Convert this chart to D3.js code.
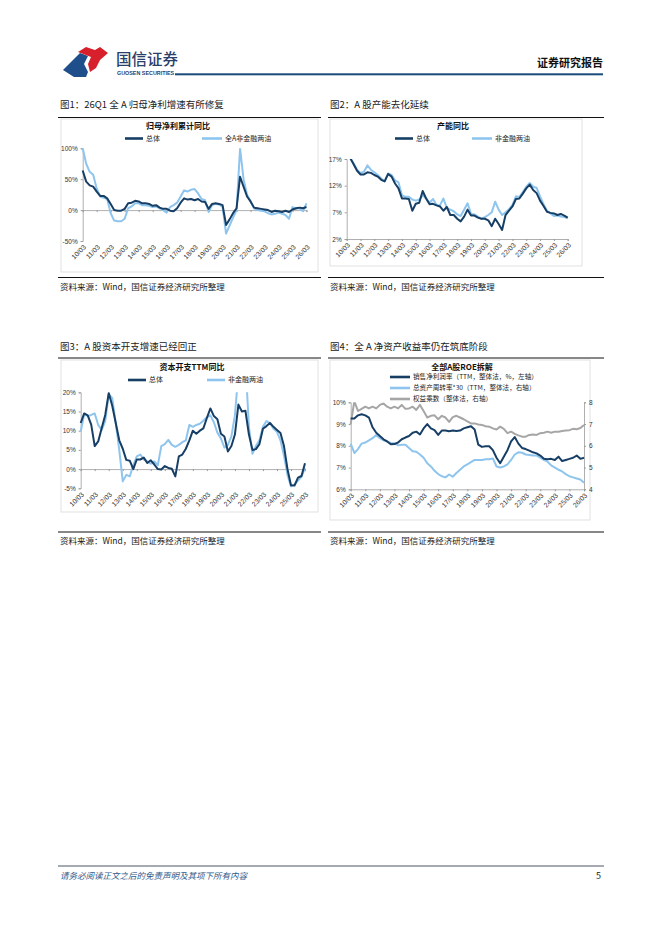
<!DOCTYPE html>
<html>
<head>
<meta charset="utf-8">
<script src="https://cdn.jsdelivr.net/npm/d3@7"></script>
<style>
  body { margin: 0; background: #fff; }
  svg text { font-family: "Noto Sans CJK SC", "Liberation Sans", sans-serif; }
</style>
</head>
<body>
<svg id="page" width="662" height="936"></svg>
<script>
// 年度刻度標籤（每 4 個季度一個）
const tickLabels = ["10/03","11/03","12/03","13/03","14/03","15/03","16/03","17/03","18/03","19/03","20/03","21/03","22/03","23/03","24/03","25/03","26/03"];

// 圖1 歸母淨利累計同比 (%)
const profitTotal = [64,46,40,38,30,23,23,19,10,0,-1,-1,2,11,12,15,14,11,11,10,7,8,4,2,2,-1,-2,3,12,19,17,18,16,18,14,13,2,10,11,10,8,-24,-15,-5,3,54,38,22,14,4,3,2,1,0,-3,-1,-2,-3,-1,-3,1,3,4,3,5];
const profitExFin = [100,75,62,57,35,22,20,18,-5,-17,-18,-18,-14,3,6,11,11,8,8,7,5,6,3,0,-4,5,8,12,22,32,30,33,34,27,18,16,-3,8,10,9,5,-38,-25,-12,0,100,50,25,14,3,0,-1,-2,-5,-7,-6,-4,-6,-8,-14,5,2,3,-2,11];

// 圖2 產能同比 (%)
const capTotal = [18,17.2,16,14.8,14.1,14.1,14.5,14.4,14,13.7,13.1,12.8,14.2,13.7,12.4,11.5,9.6,9.6,9.5,7.3,8.6,8.8,11,9.6,8.5,8.6,8.3,8.1,7.3,8,6.5,6.5,5.8,5.3,6.2,7.5,6.4,6.4,6,5.8,5.8,5.5,4.4,5.8,4.8,3.7,6.5,7.3,8.1,9.5,9.6,10.5,11.5,12.2,11.2,10.6,9.2,8.2,7.1,6.9,6.8,6.5,6.7,6.4,6];
const capExFin = [18,17.2,16.2,15,14.4,14.6,15.8,15,14.5,14,13.3,12.9,14.3,14,13,12.6,10.2,9.9,9.9,9.4,9.2,9.4,10.2,9.6,8.8,9.5,8.4,8.3,9.6,7.8,7.5,7.2,6.6,6.3,7.5,8.7,6.7,6.6,6.2,5.8,6.1,6.5,7,9,7.5,6.5,7,7.6,8.4,10,9.9,10.8,11.8,12.5,11.8,11.6,10,8.5,7.3,6.8,6.3,6.4,6.2,6.1,5.9];

// 圖3 資本開支TTM同比 (%)
const capexTotal = [12,14.5,14,11.6,6,7.2,10.7,14.1,19.8,16.5,12,7.5,5.3,2.4,2.2,0,2.5,2.5,3,1.6,2.3,1.2,0,-0.1,0.8,0.3,0.1,-1.9,3.3,3.8,5.3,7.5,10,9.2,10,10.6,13.3,15.8,13.8,13,9.2,8.5,4.6,6,9,16.8,15,15.2,9,5,5.2,6.5,10.5,11.2,12,11,10.2,9.4,6,0,-4.2,-4.3,-2.2,-1.8,1.5];
const capexExFin = [9.8,14.3,13.8,14.1,14.5,11.5,10.2,12.5,19.5,18.5,12,5,-3.2,-1.5,-1.9,1,3.3,3.8,2.5,2,1.4,2,1,6,6.5,7.6,6.3,5.8,6.3,7,7.5,11.5,11,11.5,11.8,12.6,13.5,14,12.2,9.5,8,5.6,6.3,8.5,14,25,30,28,11,4,6,7.5,11,12.5,12,10.5,9.7,7.5,3.5,-1.5,-4.5,-4,-3,-2,0.3];

// 圖4 ROE 拆解
const netMargin = [9.25,9.25,9.4,9.45,9.4,9.3,8.85,8.6,8.45,8.3,8.2,8.07,8.08,8.15,8.3,8.38,8.45,8.6,8.65,8.52,8.8,9.0,8.8,8.72,8.5,8.7,8.7,8.67,8.7,8.68,8.7,8.8,8.85,8.9,8.75,8.05,7.95,7.98,7.98,7.8,7.45,7.2,7.5,7.8,8.2,8.4,8.1,7.9,7.85,7.78,7.7,7.65,7.55,7.4,7.38,7.4,7.35,7.5,7.3,7.35,7.4,7.45,7.55,7.4,7.45];
const assetTurnover30 = [6.1,5.67,5.85,6.1,6.15,6.25,6.35,6.5,6.35,6.25,6.2,6.13,6.12,6.02,6.05,6.05,5.9,5.75,5.73,5.6,5.45,5.2,5.05,4.85,4.7,4.6,4.55,4.68,4.58,4.75,4.9,5.05,5.15,5.25,5.35,5.35,5.35,5.38,5.38,5.42,5.05,5.0,5.05,5.15,5.35,5.6,5.7,5.68,5.6,5.58,5.55,5.55,5.45,5.35,5.27,5.1,5.0,4.9,4.82,4.7,4.6,4.55,4.5,4.45,4.3];
const equityMultiplier = [7.0,8.05,7.6,7.7,7.8,7.72,7.8,7.72,7.88,7.95,7.8,7.72,7.8,7.72,7.88,7.7,7.72,7.8,7.65,7.88,7.6,7.3,7.38,7.4,7.22,7.38,7.3,7.1,7.32,7.38,7.3,7.22,7.12,7.03,7.03,6.98,6.96,6.9,6.88,6.8,6.75,6.88,6.78,6.58,6.65,6.55,6.48,6.42,6.42,6.5,6.52,6.5,6.58,6.6,6.65,6.6,6.65,6.65,6.68,6.7,6.72,6.78,6.76,6.82,6.96];

const DARK = "#173f66";
const LIGHT = "#8ec5ee";
const GRAY = "#a6a6a6";
const AXIS = "#9a9a9a";

const svg = d3.select("#page");

// ---------- 頁眉 ----------
svg.append("path").attr("d", "M63,70 L80,53 L88,56 L84,64 L88,72 L86,77 L74,77 Z").attr("fill", "#1f4f8a");
svg.append("path").attr("d", "M78,52 L86,47 L95,50 L100,47 L108,53 L100,60 L96,68 L90,72 L88,64 L91,57 Z").attr("fill", "#d7202b");
svg.append("text").attr("x", 116).attr("y", 64.5).attr("font-size", 15.5).attr("fill", "#2b3f6b").attr("font-weight", 500).text("国信证券");
svg.append("text").attr("x", 117).attr("y", 74.5).attr("font-size", 5.4).attr("font-weight", 700).attr("fill", "#2b3f6b")
  .style("font-family", "Liberation Sans").text("GUOSEN SECURITIES");
svg.append("rect").attr("x", 175).attr("y", 73.3).attr("width", 428).attr("height", 2).attr("fill", "#1b4b7b");
svg.append("text").attr("x", 603).attr("y", 67).attr("text-anchor", "end").attr("font-size", 11).attr("font-weight", 700).attr("fill", "#111").text("证券研究报告");

// ---------- 頁腳 ----------
svg.append("line").attr("x1", 58).attr("x2", 604).attr("y1", 866).attr("y2", 866).attr("stroke", "#1e2c40").attr("stroke-width", 0.8);
svg.append("text").attr("x", 60).attr("y", 879).attr("font-size", 8.5).attr("fill", "#2e5a8c").attr("font-style", "italic").text("请务必阅读正文之后的免责声明及其项下所有内容");
svg.append("text").attr("x", 601).attr("y", 879).attr("text-anchor", "end").attr("font-size", 9).attr("fill", "#222").text("5");

// ---------- 圖框 + 標題 + 資料來源 ----------
function panel(x0, x1, yTitle, yTop, yBottom, title) {
  svg.append("text").attr("x", x0 + 2).attr("y", yTitle).attr("font-size", 9.5).attr("fill", "#1a1a1a").text(title);
  svg.append("line").attr("x1", x0).attr("x2", x1).attr("y1", yTop).attr("y2", yTop).attr("stroke", "#111").attr("stroke-width", 1);
  svg.append("line").attr("x1", x0).attr("x2", x1).attr("y1", yBottom).attr("y2", yBottom).attr("stroke", "#111").attr("stroke-width", 1);
  svg.append("text").attr("x", x0 + 2).attr("y", yBottom + 12).attr("font-size", 8.5).attr("fill", "#1a1a1a").text("资料来源：Wind，国信证券经济研究所整理");
}
panel(58, 321, 108, 117.5, 277.5, "图1：26Q1 全 A 归母净利增速有所修复");
panel(328, 604, 108, 117.5, 277.5, "图2：A 股产能去化延续");
panel(58, 321, 350, 358, 532, "图3：A 股资本开支增速已经回正");
panel(328, 604, 350, 358, 532, "图4：全 A 净资产收益率仍在筑底阶段");

let clipId = 0;

// 通用折線圖
function lineChart(o) {
  const g = svg.append("g");
  g.append("rect").attr("x", o.box[0]).attr("y", o.box[1]).attr("width", o.box[2] - o.box[0]).attr("height", o.box[3] - o.box[1])
    .attr("fill", "none").attr("stroke", "#d9d9d9").attr("stroke-width", 0.8);

  g.append("text").attr("x", o.titleX).attr("y", o.titleY).attr("text-anchor", "middle")
    .attr("font-size", 8).attr("font-weight", 700).attr("fill", "#111").text(o.title);

  const x = d3.scaleLinear().domain([0, 64]).range([o.px0, o.px1]);
  const y = d3.scaleLinear().domain(o.yDomain).range([o.py1, o.py0]);
  const y2 = o.y2Domain ? d3.scaleLinear().domain(o.y2Domain).range([o.py1, o.py0]) : null;

  // 左軸
  g.append("g").attr("transform", `translate(${o.px0},0)`)
    .call(d3.axisLeft(y).tickValues(o.yTicks).tickSize(2).tickFormat(o.yFmt));
  if (y2) {
    g.append("g").attr("transform", `translate(${o.px1},0)`)
      .call(d3.axisRight(y2).tickValues(o.y2Ticks).tickSize(2).tickFormat(d3.format("d")));
  }

  // X 軸（在 cross 處）
  const crossY = y(o.cross);
  g.append("g").attr("transform", `translate(0,${crossY})`)
    .call(d3.axisBottom(x).tickValues(d3.range(0, 65, 4)).tickSize(2).tickFormat(""));
  // 標籤放在底部，旋轉 45 度
  const labY = o.py1 + 5;
  g.selectAll(".xlab").data(tickLabels).join("text")
    .attr("class", "xlab")
    .attr("transform", (d, i) => `translate(${x(i * 4) + 2},${labY}) rotate(-45)`)
    .attr("text-anchor", "end").attr("dy", "0.35em")
    .attr("font-size", 6.8).attr("fill", "#333")
    .style("font-family", "Liberation Sans")
    .text(d => d);

  g.selectAll(".domain").attr("stroke", AXIS).attr("stroke-width", 0.8);
  g.selectAll(".tick line").attr("stroke", AXIS);
  g.selectAll(".tick text").attr("font-size", 6.5).attr("fill", "#333").style("font-family", "Liberation Sans");

  // 裁切
  const cid = "clip" + (clipId++);
  g.append("clipPath").attr("id", cid).append("rect")
    .attr("x", o.px0 - 2).attr("y", o.py0).attr("width", o.px1 - o.px0 + 6).attr("height", o.py1 - o.py0);

  const lg = g.append("g").attr("clip-path", `url(#${cid})`);
  o.series.slice().reverse().forEach(s => {
    const sc = s.right ? y2 : y;
    const line = d3.line().x((d, i) => x(i)).y(d => sc(d));
    lg.append("path").datum(s.values).attr("d", line)
      .attr("fill", "none").attr("stroke", s.color).attr("stroke-width", s.width || 2)
      .attr("stroke-linejoin", "round");
  });

  // 圖例
  o.series.forEach((s, k) => {
    const L = o.legend[k];
    g.append("line").attr("x1", L[0]).attr("x2", L[0] + L[2]).attr("y1", L[1]).attr("y2", L[1])
      .attr("stroke", s.color).attr("stroke-width", 2.6);
    g.append("text").attr("x", L[0] + L[2] + 3).attr("y", L[1]).attr("dy", "0.35em")
      .attr("font-size", o.legendSize || 7).attr("fill", "#222").text(s.name);
  });
}

// 圖1
lineChart({
  box: [61, 119, 318, 272],
  title: "归母净利累计同比", titleX: 178, titleY: 128.5,
  px0: 82.7, px1: 306.5, py0: 148.3, py1: 241,
  yDomain: [-50, 100], yTicks: [-50, 0, 50, 100], yFmt: d => d + "%", cross: 0,
  series: [
    { name: "总体", values: profitTotal, color: DARK },
    { name: "全A非金融两油", values: profitExFin, color: LIGHT }
  ],
  legend: [[125, 138.5, 18], [202, 138.5, 20]]
});

// 圖2
lineChart({
  box: [330, 119, 582, 266],
  title: "产能同比", titleX: 453, titleY: 128.5,
  px0: 346.7, px1: 567.7, py0: 159, py1: 239,
  yDomain: [2, 17], yTicks: [2, 7, 12, 17], yFmt: d => d + "%", cross: 2,
  series: [
    { name: "总体", values: capTotal, color: DARK },
    { name: "非金融两油", values: capExFin, color: LIGHT }
  ],
  legend: [[395, 138.5, 18], [472, 138.5, 20]]
});

// 圖3
lineChart({
  box: [61, 360, 318, 512],
  title: "资本开支TTM同比", titleX: 192, titleY: 369.5,
  px0: 80.7, px1: 305, py0: 392.3, py1: 488.3,
  yDomain: [-5, 20], yTicks: [-5, 0, 5, 10, 15, 20], yFmt: d => d + "%", cross: 0,
  series: [
    { name: "总体", values: capexTotal, color: DARK },
    { name: "非金融两油", values: capexExFin, color: LIGHT }
  ],
  legend: [[128, 380, 18], [207, 380, 18]]
});

// 圖4
lineChart({
  box: [330, 360, 590, 520],
  title: "全部A股ROE拆解", titleX: 462, titleY: 369.5,
  px0: 350.7, px1: 584, py0: 402.3, py1: 489.3,
  yDomain: [6, 10], yTicks: [6, 7, 8, 9, 10], yFmt: d => d + "%", cross: 6,
  y2Domain: [4, 8], y2Ticks: [4, 5, 6, 7, 8],
  series: [
    { name: "销售净利润率（TTM，整体法，%，左轴）", values: netMargin, color: DARK },
    { name: "总资产周转率*30（TTM，整体法，右轴）", values: assetTurnover30, color: LIGHT, right: true },
    { name: "权益乘数（整体法，右轴）", values: equityMultiplier, color: GRAY, right: true }
  ],
  legend: [[390, 377, 20], [390, 388, 20], [390, 399, 20]],
  legendSize: 6.6
});
</script>
</body>
</html>
